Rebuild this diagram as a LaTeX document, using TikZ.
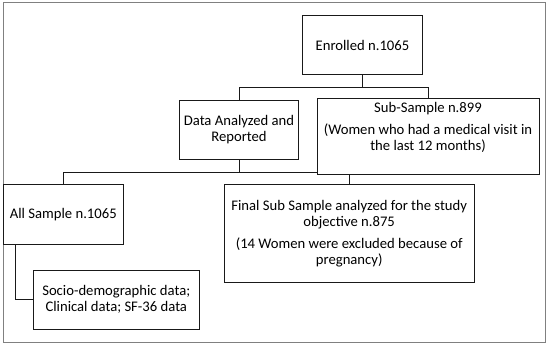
\documentclass[tikz,border=0pt]{standalone}
\usepackage{fontspec}
\setmainfont{Carlito}
\usetikzlibrary{backgrounds,calc}
\tikzset{
  box/.style={draw=black!90, line width=0.75pt, fill=white, inner sep=0pt, align=center,
              font=\fontsize{11pt}{12.2pt}\selectfont},
  txt/.style={inner sep=0pt, align=center, font=\fontsize{11pt}{12.2pt}\selectfont},
  conn/.style={draw=black!90, line width=0.75pt},
  frame/.style={draw=black!50, line width=0.75pt}
}
\begin{document}
\begin{tikzpicture}[x=0.75pt, y=-0.75pt]
\useasboundingbox (0,0) rectangle (550,346);
\node[box, minimum width=89.7pt, minimum height=44.5pt] (enr) at (362.5,45.3) {Enrolled n.1065};
\node[box, minimum width=89.55pt, minimum height=44.5pt] (data) at (239,129.7) {Data Analyzed and\\Reported};
\node[box, minimum width=166.5pt, minimum height=56.7pt] (sub) at (428,136.5) {};
\node[txt] (subtxt) at (428,127.5) {Sub-Sample n.899\\[4pt](Women who had a medical visit in\\the last 12 months)};
\node[box, minimum width=90pt, minimum height=45.2pt] (all) at (63.3,214.8) {All Sample n.1065};
\node[box, minimum width=187.7pt, minimum height=73.8pt] (final) at (349.2,233.5) {Final Sub Sample analyzed for the study\\objective n.875\\[4pt](14 Women were excluded because of\\pregnancy)};
\node[box, minimum width=124.5pt, minimum height=44.5pt] (socio) at (116.3,299.7) {Socio-demographic data;\\Clinical data; SF-36 data};
\begin{scope}[on background layer]
  \draw[frame] (3,3) rectangle (545,342);
  \draw[conn] (enr.south) -- ++(0,12.3) -| (data.north);
  \draw[conn] (enr.south) -- ++(0,12.3) -| (sub.north);
  \draw[conn] (data.south) -- ++(0,12.4) -| (all.north);
  \draw[conn] (data.south) -- ++(0,12.4) -| (final.north);
  \draw[conn] ($(all.south west)+(12.4,0)$) |- (socio.west);
\end{scope}
\end{tikzpicture}
\end{document}
